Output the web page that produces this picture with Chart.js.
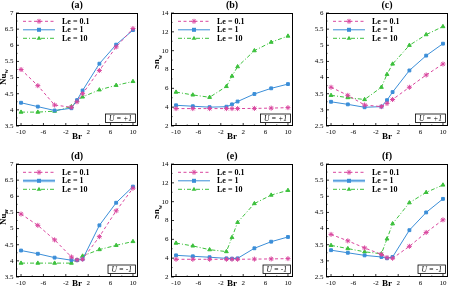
<!DOCTYPE html>
<html>
<head>
<meta charset="utf-8">
<style>
  html, body { margin: 0; padding: 0; background: #fff; overflow: hidden; }
  body { position: relative; width: 449px; height: 291px; }
  canvas { position: absolute; }
</style>
<script src="https://cdn.jsdelivr.net/npm/chart.js@4.4.1/dist/chart.umd.min.js"></script>
</head>
<body>
<canvas id="pa" width="155" height="145" style="left:0;top:0"></canvas>
<canvas id="pb" width="155" height="145" style="left:155px;top:0"></canvas>
<canvas id="pc" width="155" height="145" style="left:310px;top:0"></canvas>
<canvas id="pd" width="155" height="145" style="left:0;top:146px"></canvas>
<canvas id="pe" width="155" height="145" style="left:155px;top:146px"></canvas>
<canvas id="pf" width="155" height="145" style="left:310px;top:146px"></canvas>
<script>
/* ---------- data ---------- */
const BR = [-10, -7, -4, -1, 0, 1, 4, 7, 10];
const BR_TICKS = [-10, -6, -2, 2, 6, 10];
const LE_LABELS = ["Le = 0.1", "Le = 1", "Le = 10"];

// U = +1
const NU_UP_LE01 = [5.25, 4.75, 4.15, 4.08, 4.25, 4.5, 5.22, 5.95, 6.52];
const NU_UP_LE1 = [4.22, 4.1, 3.98, 4.05, 4.3, 4.6, 5.43, 6.02, 6.47];
const NU_UP_LE10 = [3.93, 3.93, 3.96, 4.1, 4.28, 4.4, 4.62, 4.76, 4.88];

const SH_UP_LE01 = [3.85, 3.85, 3.85, 3.85, 3.85, 3.85, 3.87, 3.9, 3.95];
const SH_UP_LE1 = [4.2, 4.1, 4.0, 4.05, 4.3, 4.6, 5.4, 6.0, 6.45];
const SH_UP_LE10 = [5.6, 5.3, 5.05, 6.2, 7.3, 8.3, 10.0, 10.9, 11.55];

const DE_UP_LE01 = [3.7, 3.45, 3.15, 3.1, 3.2, 3.32, 3.7, 4.08, 4.42];
const DE_UP_LE1 = [3.25, 3.17, 3.08, 3.1, 3.3, 3.55, 4.22, 4.68, 5.05];
const DE_UP_LE10 = [3.45, 3.38, 3.32, 3.7, 4.1, 4.42, 5.0, 5.33, 5.58];

// U = -1
const NU_DN_LE01 = [5.45, 5.1, 4.65, 4.12, 4.03, 4.05, 4.75, 5.55, 6.25];
const NU_DN_LE1 = [4.32, 4.22, 4.1, 4.02, 4.02, 4.05, 5.1, 5.8, 6.3];
const NU_DN_LE10 = [3.93, 3.93, 3.93, 3.93, 4.02, 4.15, 4.35, 4.48, 4.6];

const SH_DN_LE01 = [3.88, 3.88, 3.88, 3.88, 3.88, 3.88, 3.9, 3.92, 3.95];
const SH_DN_LE1 = [4.3, 4.2, 4.1, 3.98, 3.95, 3.98, 5.05, 5.75, 6.25];
const SH_DN_LE10 = [5.6, 5.3, 4.9, 4.7, 6.2, 7.8, 9.8, 10.7, 11.2];

const DE_DN_LE01 = [3.82, 3.62, 3.4, 3.2, 3.1, 3.08, 3.45, 3.88, 4.27];
const DE_DN_LE1 = [3.33, 3.25, 3.17, 3.12, 3.08, 3.12, 3.95, 4.5, 4.92];
const DE_DN_LE10 = [3.48, 3.38, 3.28, 3.22, 3.68, 4.15, 4.8, 5.12, 5.35];

/* ---------- styles ---------- */
const SERIF = "'Liberation Serif', 'DejaVu Serif', serif";
const SERIES_STYLE = [
  { color: "#d9469e", dash: [3, 2.5], pointStyle: "star", radius: 2.5 },
  { color: "#3b8ed8", dash: [], pointStyle: "rect", radius: 2 },
  { color: "#3cc03c", dash: [4, 2, 1, 2], pointStyle: "triangle", radius: 2.2 }
];

/* ---------- decoration plugin: frame, ticks, titles, legend ---------- */
function drawMarker(ctx, style, r, x, y) {
  ctx.beginPath();
  if (style === "rect") {
    ctx.fillRect(x - r, y - r, r * 2, r * 2);
  } else if (style === "triangle") {
    ctx.moveTo(x, y - r * 1.2);
    ctx.lineTo(x + r * 1.1, y + r * 0.7);
    ctx.lineTo(x - r * 1.1, y + r * 0.7);
    ctx.closePath();
    ctx.fill();
  } else {
    for (let k = 0; k < 4; k++) {
      const ang = (k * Math.PI) / 4;
      ctx.moveTo(x - Math.cos(ang) * r, y - Math.sin(ang) * r);
      ctx.lineTo(x + Math.cos(ang) * r, y + Math.sin(ang) * r);
    }
    ctx.stroke();
  }
}

const panelDecor = {
  id: "panelDecor",
  afterDraw(chart, args, opts) {
    const { ctx, chartArea: a, scales } = chart;
    ctx.save();

    // frame
    ctx.strokeStyle = "#000";
    ctx.lineWidth = 1;
    ctx.setLineDash([]);
    ctx.strokeRect(a.left + 0.5, a.top + 0.5, a.right - a.left - 1, a.bottom - a.top - 1);

    // inward ticks
    ctx.lineWidth = 0.8;
    ctx.beginPath();
    BR_TICKS.forEach((v) => {
      const px = scales.x.getPixelForValue(v);
      ctx.moveTo(px, a.bottom);
      ctx.lineTo(px, a.bottom - 3);
      const mx = scales.x.getPixelForValue(v + 2);
      if (v + 2 < 11) {
        ctx.moveTo(mx, a.bottom);
        ctx.lineTo(mx, a.bottom - 1.5);
      }
    });
    const ys = scales.y;
    const step = opts.yStep;
    for (let v = ys.min; v <= ys.max + 1e-6; v += step / 2) {
      const py = ys.getPixelForValue(v);
      const major = Math.abs(Math.round((v - ys.min) / step) * step - (v - ys.min)) < 1e-6;
      ctx.moveTo(a.left, py);
      ctx.lineTo(a.left + (major ? 3 : 1.5), py);
    }
    ctx.stroke();

    // panel title
    ctx.fillStyle = "#000";
    ctx.font = "bold 10px " + SERIF;
    ctx.textAlign = "center";
    ctx.textBaseline = "middle";
    ctx.fillText(opts.letter, (a.left + a.right) / 2, a.top - 7.5);

    // y-axis title with subscript
    ctx.save();
    ctx.translate(a.left + opts.yTitleDx, opts.yTitleY);
    ctx.rotate(-Math.PI / 2);
    ctx.font = "bold 9px " + SERIF;
    const mainW = ctx.measureText(opts.yMain).width;
    ctx.font = "bold 6px " + SERIF;
    const subW = opts.ySub ? ctx.measureText(opts.ySub).width : 0;
    const x0 = -(mainW + subW) / 2;
    ctx.textAlign = "left";
    ctx.font = "bold 9px " + SERIF;
    ctx.fillText(opts.yMain, x0, 0);
    if (opts.ySub) {
      ctx.font = "bold 6px " + SERIF;
      ctx.fillText(opts.ySub, x0 + mainW, 3);
    }
    ctx.restore();

    // legend
    chart.data.datasets.forEach((ds, i) => {
      const st = SERIES_STYLE[i];
      const y = a.top + 8.3 + i * 8.5;
      const x1 = a.left + 7;
      const x2 = a.left + 39;
      if (opts.highlight === i) {
        ctx.strokeStyle = "#a9d1f2";
        ctx.lineWidth = 3;
        ctx.setLineDash([]);
        ctx.beginPath();
        ctx.moveTo(x1, y);
        ctx.lineTo(x2, y);
        ctx.stroke();
      }
      ctx.strokeStyle = st.color;
      ctx.fillStyle = st.color;
      ctx.lineWidth = 1;
      ctx.setLineDash(st.dash);
      ctx.beginPath();
      ctx.moveTo(x1, y);
      ctx.lineTo(x2, y);
      ctx.stroke();
      ctx.setLineDash([]);
      drawMarker(ctx, st.pointStyle, st.radius, (x1 + x2) / 2, y);
      ctx.fillStyle = "#000";
      ctx.font = "bold 8px " + SERIF;
      ctx.textAlign = "left";
      ctx.fillText(ds.label, a.left + 46, y + 0.5);
    });

    // U box
    ctx.font = "italic 7.5px " + SERIF;
    const tw = ctx.measureText(opts.uText).width;
    const bw = tw + 7;
    const bh = 8.5;
    const bx = a.right - 2.5 - bw;
    const by = a.bottom - 3.5 - bh;
    ctx.fillStyle = "#fff";
    ctx.fillRect(bx, by, bw, bh);
    ctx.strokeStyle = "#000";
    ctx.lineWidth = 0.8;
    ctx.strokeRect(bx, by, bw, bh);
    ctx.fillStyle = "#000";
    ctx.textAlign = "center";
    ctx.fillText(opts.uText, bx + bw / 2, by + bh / 2 + 0.5);

    ctx.restore();
  }
};

/* ---------- chart builder ---------- */
function makePanel(id, cfg) {
  const top = cfg.row === 0 ? 13 : 18;
  const xAxisH = cfg.row === 0 ? 19 : 14;
  const datasets = cfg.series.map((vals, i) => {
    const st = SERIES_STYLE[i];
    return {
      label: LE_LABELS[i],
      data: BR.map((x, k) => ({ x, y: vals[k] })),
      borderColor: st.color,
      backgroundColor: st.color,
      borderWidth: 1,
      borderDash: st.dash,
      pointStyle: st.pointStyle,
      pointRadius: st.radius,
      pointBorderWidth: 1,
      tension: 0
    };
  });

  return new Chart(document.getElementById(id), {
    type: "line",
    data: { datasets },
    plugins: [panelDecor],
    options: {
      responsive: false,
      animation: false,
      events: [],
      layout: { padding: { left: 0, right: 17, top, bottom: 0 } },
      plugins: {
        legend: { display: false },
        tooltip: { enabled: false },
        panelDecor: {
          letter: cfg.letter,
          yMain: cfg.yMain,
          ySub: cfg.ySub,
          yTitleDx: cfg.yTitleDx,
          yTitleY: cfg.yTitleY,
          yStep: cfg.yStep,
          uText: cfg.row === 0 ? "U = +1" : "U = -1",
          highlight: cfg.highlight
        }
      },
      scales: {
        x: {
          type: "linear",
          min: -10.9,
          max: 10.9,
          afterBuildTicks: (scale) => {
            scale.ticks = BR_TICKS.map((v) => ({ value: v }));
          },
          afterFit: (scale) => { scale.height = xAxisH; },
          grid: { display: false, drawTicks: false },
          border: { display: false },
          ticks: { color: "#000", padding: 1.5, font: { family: SERIF, size: 7 }, maxRotation: 0,
            callback: (v) => String(v) },
          title: {
            display: true,
            text: "Br",
            color: "#000",
            font: { family: SERIF, size: 9, weight: "bold" },
            padding: { top: 0, bottom: cfg.row === 0 ? 2.5 : 1.5 }
          }
        },
        y: {
          min: cfg.yMin,
          max: cfg.yMax,
          afterFit: (scale) => { scale.width = 16; },
          grid: { display: false, drawTicks: false },
          border: { display: false },
          ticks: { color: "#000", padding: 2.5, stepSize: cfg.yStep, font: { family: SERIF, size: 7 },
            callback: (v) => String(+v.toFixed(2)) }
        }
      }
    }
  });
}

makePanel("pa", { row: 0, letter: "(a)", yMain: "Nu", ySub: "w", yTitleDx: -12.5, yTitleY: 77,
  yMin: 3.5, yMax: 7, yStep: 0.5, series: [NU_UP_LE01, NU_UP_LE1, NU_UP_LE10] });
makePanel("pb", { row: 0, letter: "(b)", yMain: "Sh", ySub: "w", yTitleDx: -14, yTitleY: 62,
  yMin: 2, yMax: 14, yStep: 2, series: [SH_UP_LE01, SH_UP_LE1, SH_UP_LE10] });
makePanel("pc", { row: 0, letter: "(c)", yMain: "\u03b4", ySub: "", yTitleDx: -19, yTitleY: 70,
  yMin: 2.5, yMax: 6, yStep: 0.5, series: [DE_UP_LE01, DE_UP_LE1, DE_UP_LE10] });
makePanel("pd", { row: 1, letter: "(d)", yMain: "Nu", ySub: "w", yTitleDx: -12.5, yTitleY: 71,
  yMin: 3.5, yMax: 7, yStep: 0.5, highlight: 1, series: [NU_DN_LE01, NU_DN_LE1, NU_DN_LE10] });
makePanel("pe", { row: 1, letter: "(e)", yMain: "Sh", ySub: "w", yTitleDx: -14, yTitleY: 66,
  yMin: 2, yMax: 14, yStep: 2, series: [SH_DN_LE01, SH_DN_LE1, SH_DN_LE10] });
makePanel("pf", { row: 1, letter: "(f)", yMain: "\u03b4", ySub: "", yTitleDx: -19, yTitleY: 74,
  yMin: 2.5, yMax: 6, yStep: 0.5, highlight: 1, series: [DE_DN_LE01, DE_DN_LE1, DE_DN_LE10] });
</script>
</body>
</html>
